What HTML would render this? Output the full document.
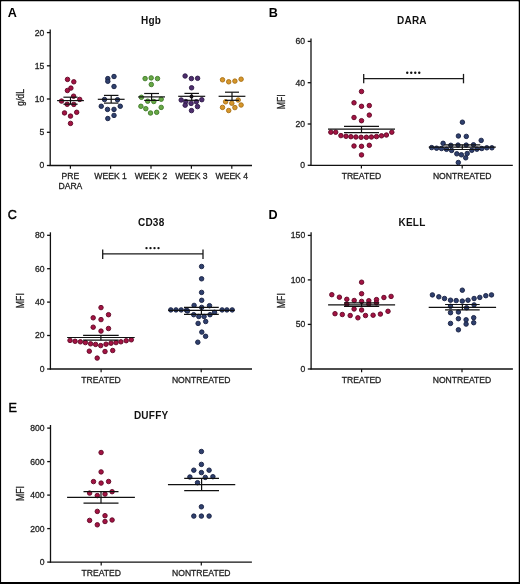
<!DOCTYPE html>
<html><head><meta charset="utf-8"><title>Figure</title>
<style>
html,body{margin:0;padding:0;background:#fff;}
body{width:520px;height:584px;overflow:hidden;}
svg{display:block;will-change:transform;}
text{font-family:"Liberation Sans", sans-serif;}
text.r{stroke:#222;stroke-width:0.28px;}
</style></head>
<body>
<svg width="520" height="584" viewBox="0 0 520 584">
<path d="M0 0H520V584H0Z M1.3 1.5V582H518.5V1.5Z" fill="#000" fill-rule="evenodd"/>
<rect x="1.3" y="1.5" width="517.2" height="580.5" fill="#fff"/>
<line x1="50.2" y1="29.5" x2="50.2" y2="166.1" stroke="#111" stroke-width="1.3"/>
<line x1="49.6" y1="165.5" x2="252" y2="165.5" stroke="#111" stroke-width="1.3"/>
<line x1="46.9" y1="165.5" x2="50.2" y2="165.5" stroke="#111" stroke-width="1.3"/>
<text class="r" x="44.3" y="168.4" font-size="8.6" text-anchor="end" font-weight="normal" fill="#222" >0</text>
<line x1="46.9" y1="132.3" x2="50.2" y2="132.3" stroke="#111" stroke-width="1.3"/>
<text class="r" x="44.3" y="135.2" font-size="8.6" text-anchor="end" font-weight="normal" fill="#222" >5</text>
<line x1="46.9" y1="99" x2="50.2" y2="99" stroke="#111" stroke-width="1.3"/>
<text class="r" x="44.3" y="101.9" font-size="8.6" text-anchor="end" font-weight="normal" fill="#222" >10</text>
<line x1="46.9" y1="65.8" x2="50.2" y2="65.8" stroke="#111" stroke-width="1.3"/>
<text class="r" x="44.3" y="68.7" font-size="8.6" text-anchor="end" font-weight="normal" fill="#222" >15</text>
<line x1="46.9" y1="32.6" x2="50.2" y2="32.6" stroke="#111" stroke-width="1.3"/>
<text class="r" x="44.3" y="35.5" font-size="8.6" text-anchor="end" font-weight="normal" fill="#222" >20</text>
<line x1="70.4" y1="165.5" x2="70.4" y2="168.8" stroke="#111" stroke-width="1.2"/>
<text class="r" x="70.4" y="178.8" font-size="8.6" text-anchor="middle" font-weight="normal" fill="#222" >PRE</text>
<text class="r" x="70.4" y="189.2" font-size="8.6" text-anchor="middle" font-weight="normal" fill="#222" >DARA</text>
<line x1="110.6" y1="165.5" x2="110.6" y2="168.8" stroke="#111" stroke-width="1.2"/>
<text class="r" x="110.6" y="178.8" font-size="8.6" text-anchor="middle" font-weight="normal" fill="#222" >WEEK 1</text>
<line x1="151" y1="165.5" x2="151" y2="168.8" stroke="#111" stroke-width="1.2"/>
<text class="r" x="151" y="178.8" font-size="8.6" text-anchor="middle" font-weight="normal" fill="#222" >WEEK 2</text>
<line x1="191.4" y1="165.5" x2="191.4" y2="168.8" stroke="#111" stroke-width="1.2"/>
<text class="r" x="191.4" y="178.8" font-size="8.6" text-anchor="middle" font-weight="normal" fill="#222" >WEEK 3</text>
<line x1="231.8" y1="165.5" x2="231.8" y2="168.8" stroke="#111" stroke-width="1.2"/>
<text class="r" x="231.8" y="178.8" font-size="8.6" text-anchor="middle" font-weight="normal" fill="#222" >WEEK 4</text>
<text x="151.1" y="23.5" font-size="10" text-anchor="middle" font-weight="bold" fill="#111" letter-spacing="0.25">Hgb</text>
<text x="7.8" y="16.5" font-size="12.6" text-anchor="start" font-weight="bold" fill="#000" >A</text>
<text class="r" x="0" y="0" font-size="10.6" text-anchor="middle" fill="#222" transform="translate(24,97.5) rotate(-90) scale(0.82,1)">g/dL</text>
<circle cx="67.5" cy="79.4" r="2.25" fill="#a31343" stroke="#600725" stroke-width="0.9"/>
<circle cx="73.8" cy="81.8" r="2.25" fill="#a31343" stroke="#600725" stroke-width="0.9"/>
<circle cx="70.9" cy="88.1" r="2.25" fill="#a31343" stroke="#600725" stroke-width="0.9"/>
<circle cx="67.4" cy="90.5" r="2.25" fill="#a31343" stroke="#600725" stroke-width="0.9"/>
<circle cx="73.6" cy="96.2" r="2.25" fill="#a31343" stroke="#600725" stroke-width="0.9"/>
<circle cx="79.7" cy="99.4" r="2.25" fill="#a31343" stroke="#600725" stroke-width="0.9"/>
<circle cx="61.5" cy="101.1" r="2.25" fill="#a31343" stroke="#600725" stroke-width="0.9"/>
<circle cx="67.2" cy="104.3" r="2.25" fill="#a31343" stroke="#600725" stroke-width="0.9"/>
<circle cx="73.8" cy="104.4" r="2.25" fill="#a31343" stroke="#600725" stroke-width="0.9"/>
<circle cx="64.5" cy="112.9" r="2.25" fill="#a31343" stroke="#600725" stroke-width="0.9"/>
<circle cx="76.7" cy="112.3" r="2.25" fill="#a31343" stroke="#600725" stroke-width="0.9"/>
<circle cx="70.5" cy="116.1" r="2.25" fill="#a31343" stroke="#600725" stroke-width="0.9"/>
<circle cx="70.5" cy="123.4" r="2.25" fill="#a31343" stroke="#600725" stroke-width="0.9"/>
<line x1="63.4" y1="97.2" x2="77.6" y2="97.2" stroke="#111" stroke-width="1.2"/>
<line x1="63.4" y1="104.2" x2="77.6" y2="104.2" stroke="#111" stroke-width="1.2"/>
<line x1="70.5" y1="97.2" x2="70.5" y2="104.2" stroke="#111" stroke-width="1.2"/>
<line x1="57.1" y1="100.6" x2="83.9" y2="100.6" stroke="#111" stroke-width="1.2"/>
<circle cx="114.0" cy="76.5" r="2.25" fill="#2f406e" stroke="#172042" stroke-width="0.9"/>
<circle cx="107.8" cy="78.6" r="2.25" fill="#2f406e" stroke="#172042" stroke-width="0.9"/>
<circle cx="107.8" cy="81.3" r="2.25" fill="#2f406e" stroke="#172042" stroke-width="0.9"/>
<circle cx="114.0" cy="86.5" r="2.25" fill="#2f406e" stroke="#172042" stroke-width="0.9"/>
<circle cx="104.5" cy="99.5" r="2.25" fill="#2f406e" stroke="#172042" stroke-width="0.9"/>
<circle cx="117.5" cy="99.75" r="2.25" fill="#2f406e" stroke="#172042" stroke-width="0.9"/>
<circle cx="101.25" cy="106.25" r="2.25" fill="#2f406e" stroke="#172042" stroke-width="0.9"/>
<circle cx="120.25" cy="106.25" r="2.25" fill="#2f406e" stroke="#172042" stroke-width="0.9"/>
<circle cx="107.5" cy="109.4" r="2.25" fill="#2f406e" stroke="#172042" stroke-width="0.9"/>
<circle cx="114.0" cy="109.4" r="2.25" fill="#2f406e" stroke="#172042" stroke-width="0.9"/>
<circle cx="114.0" cy="115.4" r="2.25" fill="#2f406e" stroke="#172042" stroke-width="0.9"/>
<circle cx="107.8" cy="118.5" r="2.25" fill="#2f406e" stroke="#172042" stroke-width="0.9"/>
<line x1="103.95" y1="95.4" x2="118.45" y2="95.4" stroke="#111" stroke-width="1.2"/>
<line x1="103.95" y1="103.1" x2="118.45" y2="103.1" stroke="#111" stroke-width="1.2"/>
<line x1="111.2" y1="95.4" x2="111.2" y2="103.1" stroke="#111" stroke-width="1.2"/>
<line x1="97.8" y1="99.3" x2="124.6" y2="99.3" stroke="#111" stroke-width="1.2"/>
<circle cx="145.1" cy="78.6" r="2.25" fill="#68a845" stroke="#3f7a2a" stroke-width="0.9"/>
<circle cx="151.2" cy="77.9" r="2.25" fill="#68a845" stroke="#3f7a2a" stroke-width="0.9"/>
<circle cx="157.5" cy="78.6" r="2.25" fill="#68a845" stroke="#3f7a2a" stroke-width="0.9"/>
<circle cx="151.3" cy="84.5" r="2.25" fill="#68a845" stroke="#3f7a2a" stroke-width="0.9"/>
<circle cx="141.4" cy="97.3" r="2.25" fill="#68a845" stroke="#3f7a2a" stroke-width="0.9"/>
<circle cx="147.7" cy="101.2" r="2.25" fill="#68a845" stroke="#3f7a2a" stroke-width="0.9"/>
<circle cx="153.8" cy="101.5" r="2.25" fill="#68a845" stroke="#3f7a2a" stroke-width="0.9"/>
<circle cx="161.2" cy="99.2" r="2.25" fill="#68a845" stroke="#3f7a2a" stroke-width="0.9"/>
<circle cx="140.9" cy="106.3" r="2.25" fill="#68a845" stroke="#3f7a2a" stroke-width="0.9"/>
<circle cx="145.8" cy="108.7" r="2.25" fill="#68a845" stroke="#3f7a2a" stroke-width="0.9"/>
<circle cx="161.2" cy="107.4" r="2.25" fill="#68a845" stroke="#3f7a2a" stroke-width="0.9"/>
<circle cx="150.5" cy="113.0" r="2.25" fill="#68a845" stroke="#3f7a2a" stroke-width="0.9"/>
<circle cx="156.7" cy="112.3" r="2.25" fill="#68a845" stroke="#3f7a2a" stroke-width="0.9"/>
<line x1="144.2" y1="93.5" x2="159" y2="93.5" stroke="#111" stroke-width="1.2"/>
<line x1="144.2" y1="100.4" x2="159" y2="100.4" stroke="#111" stroke-width="1.2"/>
<line x1="151.6" y1="93.5" x2="151.6" y2="100.4" stroke="#111" stroke-width="1.2"/>
<line x1="138.2" y1="96.9" x2="165" y2="96.9" stroke="#111" stroke-width="1.2"/>
<circle cx="185.1" cy="76.0" r="2.25" fill="#4e2e6e" stroke="#2c1a46" stroke-width="0.9"/>
<circle cx="191.4" cy="78.6" r="2.25" fill="#4e2e6e" stroke="#2c1a46" stroke-width="0.9"/>
<circle cx="197.6" cy="78.3" r="2.25" fill="#4e2e6e" stroke="#2c1a46" stroke-width="0.9"/>
<circle cx="191.6" cy="87.8" r="2.25" fill="#4e2e6e" stroke="#2c1a46" stroke-width="0.9"/>
<circle cx="181.2" cy="100.0" r="2.25" fill="#4e2e6e" stroke="#2c1a46" stroke-width="0.9"/>
<circle cx="185.8" cy="101.6" r="2.25" fill="#4e2e6e" stroke="#2c1a46" stroke-width="0.9"/>
<circle cx="191.1" cy="103.4" r="2.25" fill="#4e2e6e" stroke="#2c1a46" stroke-width="0.9"/>
<circle cx="196.3" cy="101.8" r="2.25" fill="#4e2e6e" stroke="#2c1a46" stroke-width="0.9"/>
<circle cx="201.8" cy="99.7" r="2.25" fill="#4e2e6e" stroke="#2c1a46" stroke-width="0.9"/>
<circle cx="185.2" cy="105.2" r="2.25" fill="#4e2e6e" stroke="#2c1a46" stroke-width="0.9"/>
<circle cx="197.5" cy="106.6" r="2.25" fill="#4e2e6e" stroke="#2c1a46" stroke-width="0.9"/>
<circle cx="191.5" cy="110.6" r="2.25" fill="#4e2e6e" stroke="#2c1a46" stroke-width="0.9"/>
<circle cx="191.5" cy="96.6" r="2.0" fill="#150a1c"/>
<line x1="184.45" y1="93.4" x2="198.95" y2="93.4" stroke="#111" stroke-width="1.2"/>
<line x1="184.45" y1="100.3" x2="198.95" y2="100.3" stroke="#111" stroke-width="1.2"/>
<line x1="191.7" y1="93.4" x2="191.7" y2="100.3" stroke="#111" stroke-width="1.2"/>
<line x1="178.2" y1="96.3" x2="205.2" y2="96.3" stroke="#111" stroke-width="1.2"/>
<circle cx="222.5" cy="79.8" r="2.25" fill="#d6962a" stroke="#a86f14" stroke-width="0.9"/>
<circle cx="228.7" cy="81.8" r="2.25" fill="#d6962a" stroke="#a86f14" stroke-width="0.9"/>
<circle cx="234.9" cy="81.1" r="2.25" fill="#d6962a" stroke="#a86f14" stroke-width="0.9"/>
<circle cx="241.1" cy="79.2" r="2.25" fill="#d6962a" stroke="#a86f14" stroke-width="0.9"/>
<circle cx="225.6" cy="101.8" r="2.25" fill="#d6962a" stroke="#a86f14" stroke-width="0.9"/>
<circle cx="231.8" cy="103.2" r="2.25" fill="#d6962a" stroke="#a86f14" stroke-width="0.9"/>
<circle cx="238.2" cy="100.0" r="2.25" fill="#d6962a" stroke="#a86f14" stroke-width="0.9"/>
<circle cx="222.5" cy="107.4" r="2.25" fill="#d6962a" stroke="#a86f14" stroke-width="0.9"/>
<circle cx="228.7" cy="110.5" r="2.25" fill="#d6962a" stroke="#a86f14" stroke-width="0.9"/>
<circle cx="234.9" cy="107.6" r="2.25" fill="#d6962a" stroke="#a86f14" stroke-width="0.9"/>
<circle cx="241.1" cy="105.0" r="2.25" fill="#d6962a" stroke="#a86f14" stroke-width="0.9"/>
<line x1="225" y1="92.2" x2="239" y2="92.2" stroke="#111" stroke-width="1.2"/>
<line x1="225" y1="100.3" x2="239" y2="100.3" stroke="#111" stroke-width="1.2"/>
<line x1="232" y1="92.2" x2="232" y2="100.3" stroke="#111" stroke-width="1.2"/>
<line x1="218.6" y1="96.3" x2="245.4" y2="96.3" stroke="#111" stroke-width="1.2"/>
<line x1="311" y1="38.4" x2="311" y2="165.9" stroke="#111" stroke-width="1.3"/>
<line x1="310.4" y1="165.3" x2="512.8" y2="165.3" stroke="#111" stroke-width="1.3"/>
<line x1="307.7" y1="165.3" x2="311" y2="165.3" stroke="#111" stroke-width="1.3"/>
<text class="r" x="305.1" y="168.2" font-size="8.6" text-anchor="end" font-weight="normal" fill="#222" >0</text>
<line x1="307.7" y1="124" x2="311" y2="124" stroke="#111" stroke-width="1.3"/>
<text class="r" x="305.1" y="126.9" font-size="8.6" text-anchor="end" font-weight="normal" fill="#222" >20</text>
<line x1="307.7" y1="82.7" x2="311" y2="82.7" stroke="#111" stroke-width="1.3"/>
<text class="r" x="305.1" y="85.6" font-size="8.6" text-anchor="end" font-weight="normal" fill="#222" >40</text>
<line x1="307.7" y1="41.4" x2="311" y2="41.4" stroke="#111" stroke-width="1.3"/>
<text class="r" x="305.1" y="44.3" font-size="8.6" text-anchor="end" font-weight="normal" fill="#222" >60</text>
<line x1="361.4" y1="165.3" x2="361.4" y2="168.6" stroke="#111" stroke-width="1.2"/>
<text class="r" x="361.4" y="179.3" font-size="8.6" text-anchor="middle" font-weight="normal" fill="#222" >TREATED</text>
<line x1="462.2" y1="165.3" x2="462.2" y2="168.6" stroke="#111" stroke-width="1.2"/>
<text class="r" x="462.2" y="179.3" font-size="8.6" text-anchor="middle" font-weight="normal" fill="#222" >NONTREATED</text>
<text x="411.9" y="23.8" font-size="10" text-anchor="middle" font-weight="bold" fill="#111" letter-spacing="0.25">DARA</text>
<text x="268.8" y="16.6" font-size="12.6" text-anchor="start" font-weight="bold" fill="#000" >B</text>
<text class="r" x="0" y="0" font-size="10.6" text-anchor="middle" fill="#222" transform="translate(284.6,101.85) rotate(-90) scale(0.82,1)">MFI</text>
<line x1="363.7" y1="78.6" x2="463.5" y2="78.6" stroke="#1a1a1a" stroke-width="1.3"/>
<line x1="363.7" y1="73.9" x2="363.7" y2="83.3" stroke="#1a1a1a" stroke-width="1.3"/>
<line x1="463.5" y1="73.9" x2="463.5" y2="83.3" stroke="#1a1a1a" stroke-width="1.3"/>
<circle cx="407.25" cy="72.8" r="1.2" fill="#111"/>
<circle cx="411.25" cy="72.8" r="1.2" fill="#111"/>
<circle cx="415.25" cy="72.8" r="1.2" fill="#111"/>
<circle cx="419.25" cy="72.8" r="1.2" fill="#111"/>
<circle cx="361.5" cy="91.5" r="2.25" fill="#a31343" stroke="#600725" stroke-width="0.9"/>
<circle cx="354.0" cy="102.8" r="2.25" fill="#a31343" stroke="#600725" stroke-width="0.9"/>
<circle cx="361.5" cy="106.3" r="2.25" fill="#a31343" stroke="#600725" stroke-width="0.9"/>
<circle cx="369.3" cy="105.6" r="2.25" fill="#a31343" stroke="#600725" stroke-width="0.9"/>
<circle cx="369.3" cy="115.1" r="2.25" fill="#a31343" stroke="#600725" stroke-width="0.9"/>
<circle cx="354.0" cy="117.5" r="2.25" fill="#a31343" stroke="#600725" stroke-width="0.9"/>
<circle cx="361.5" cy="120.7" r="2.25" fill="#a31343" stroke="#600725" stroke-width="0.9"/>
<circle cx="330.8" cy="132.2" r="2.25" fill="#a31343" stroke="#600725" stroke-width="0.9"/>
<circle cx="335.7" cy="132.2" r="2.25" fill="#a31343" stroke="#600725" stroke-width="0.9"/>
<circle cx="340.9" cy="135.6" r="2.25" fill="#a31343" stroke="#600725" stroke-width="0.9"/>
<circle cx="346.0" cy="136.3" r="2.25" fill="#a31343" stroke="#600725" stroke-width="0.9"/>
<circle cx="350.9" cy="136.7" r="2.25" fill="#a31343" stroke="#600725" stroke-width="0.9"/>
<circle cx="355.9" cy="137.0" r="2.25" fill="#a31343" stroke="#600725" stroke-width="0.9"/>
<circle cx="361.1" cy="137.3" r="2.25" fill="#a31343" stroke="#600725" stroke-width="0.9"/>
<circle cx="366.4" cy="137.3" r="2.25" fill="#a31343" stroke="#600725" stroke-width="0.9"/>
<circle cx="371.4" cy="137.0" r="2.25" fill="#a31343" stroke="#600725" stroke-width="0.9"/>
<circle cx="376.5" cy="136.6" r="2.25" fill="#a31343" stroke="#600725" stroke-width="0.9"/>
<circle cx="381.5" cy="135.8" r="2.25" fill="#a31343" stroke="#600725" stroke-width="0.9"/>
<circle cx="386.4" cy="135.0" r="2.25" fill="#a31343" stroke="#600725" stroke-width="0.9"/>
<circle cx="391.8" cy="132.2" r="2.25" fill="#a31343" stroke="#600725" stroke-width="0.9"/>
<circle cx="354.0" cy="146.0" r="2.25" fill="#a31343" stroke="#600725" stroke-width="0.9"/>
<circle cx="361.5" cy="146.3" r="2.25" fill="#a31343" stroke="#600725" stroke-width="0.9"/>
<circle cx="369.3" cy="145.3" r="2.25" fill="#a31343" stroke="#600725" stroke-width="0.9"/>
<circle cx="361.5" cy="154.9" r="2.25" fill="#a31343" stroke="#600725" stroke-width="0.9"/>
<line x1="344" y1="126.3" x2="379" y2="126.3" stroke="#111" stroke-width="1.2"/>
<line x1="344" y1="132.6" x2="379" y2="132.6" stroke="#111" stroke-width="1.2"/>
<line x1="361.5" y1="126.3" x2="361.5" y2="132.6" stroke="#111" stroke-width="1.2"/>
<line x1="328" y1="129.2" x2="395" y2="129.2" stroke="#111" stroke-width="1.2"/>
<circle cx="462.4" cy="122.2" r="2.25" fill="#2f406e" stroke="#172042" stroke-width="0.9"/>
<circle cx="458.4" cy="136.0" r="2.25" fill="#2f406e" stroke="#172042" stroke-width="0.9"/>
<circle cx="466.3" cy="136.4" r="2.25" fill="#2f406e" stroke="#172042" stroke-width="0.9"/>
<circle cx="481.2" cy="140.4" r="2.25" fill="#2f406e" stroke="#172042" stroke-width="0.9"/>
<circle cx="443.1" cy="143.3" r="2.25" fill="#2f406e" stroke="#172042" stroke-width="0.9"/>
<circle cx="450.8" cy="145.3" r="2.25" fill="#2f406e" stroke="#172042" stroke-width="0.9"/>
<circle cx="458.0" cy="145.1" r="2.25" fill="#2f406e" stroke="#172042" stroke-width="0.9"/>
<circle cx="466.2" cy="145.1" r="2.25" fill="#2f406e" stroke="#172042" stroke-width="0.9"/>
<circle cx="473.5" cy="144.8" r="2.25" fill="#2f406e" stroke="#172042" stroke-width="0.9"/>
<circle cx="431.7" cy="147.6" r="2.25" fill="#2f406e" stroke="#172042" stroke-width="0.9"/>
<circle cx="436.6" cy="148.2" r="2.25" fill="#2f406e" stroke="#172042" stroke-width="0.9"/>
<circle cx="441.5" cy="148.5" r="2.25" fill="#2f406e" stroke="#172042" stroke-width="0.9"/>
<circle cx="481.8" cy="148.5" r="2.25" fill="#2f406e" stroke="#172042" stroke-width="0.9"/>
<circle cx="486.8" cy="147.8" r="2.25" fill="#2f406e" stroke="#172042" stroke-width="0.9"/>
<circle cx="491.9" cy="147.8" r="2.25" fill="#2f406e" stroke="#172042" stroke-width="0.9"/>
<circle cx="446.5" cy="149.3" r="2.25" fill="#2f406e" stroke="#172042" stroke-width="0.9"/>
<circle cx="451.6" cy="150.4" r="2.25" fill="#2f406e" stroke="#172042" stroke-width="0.9"/>
<circle cx="471.8" cy="150.3" r="2.25" fill="#2f406e" stroke="#172042" stroke-width="0.9"/>
<circle cx="476.9" cy="149.2" r="2.25" fill="#2f406e" stroke="#172042" stroke-width="0.9"/>
<circle cx="456.8" cy="153.8" r="2.25" fill="#2f406e" stroke="#172042" stroke-width="0.9"/>
<circle cx="461.4" cy="154.8" r="2.25" fill="#2f406e" stroke="#172042" stroke-width="0.9"/>
<circle cx="467.2" cy="153.5" r="2.25" fill="#2f406e" stroke="#172042" stroke-width="0.9"/>
<circle cx="465.7" cy="157.8" r="2.25" fill="#2f406e" stroke="#172042" stroke-width="0.9"/>
<circle cx="458.3" cy="162.5" r="2.25" fill="#2f406e" stroke="#172042" stroke-width="0.9"/>
<line x1="444.3" y1="144.8" x2="480.3" y2="144.8" stroke="#111" stroke-width="1.2"/>
<line x1="444.3" y1="149.5" x2="480.3" y2="149.5" stroke="#111" stroke-width="1.2"/>
<line x1="462.3" y1="144.8" x2="462.3" y2="149.5" stroke="#111" stroke-width="1.2"/>
<line x1="428.8" y1="147.2" x2="495.8" y2="147.2" stroke="#111" stroke-width="1.2"/>
<line x1="50.4" y1="232.3" x2="50.4" y2="369.6" stroke="#111" stroke-width="1.3"/>
<line x1="49.8" y1="369" x2="252" y2="369" stroke="#111" stroke-width="1.3"/>
<line x1="47.1" y1="369" x2="50.4" y2="369" stroke="#111" stroke-width="1.3"/>
<text class="r" x="44.5" y="371.9" font-size="8.6" text-anchor="end" font-weight="normal" fill="#222" >0</text>
<line x1="47.1" y1="335.5" x2="50.4" y2="335.5" stroke="#111" stroke-width="1.3"/>
<text class="r" x="44.5" y="338.4" font-size="8.6" text-anchor="end" font-weight="normal" fill="#222" >20</text>
<line x1="47.1" y1="302.1" x2="50.4" y2="302.1" stroke="#111" stroke-width="1.3"/>
<text class="r" x="44.5" y="305" font-size="8.6" text-anchor="end" font-weight="normal" fill="#222" >40</text>
<line x1="47.1" y1="268.7" x2="50.4" y2="268.7" stroke="#111" stroke-width="1.3"/>
<text class="r" x="44.5" y="271.6" font-size="8.6" text-anchor="end" font-weight="normal" fill="#222" >60</text>
<line x1="47.1" y1="235.3" x2="50.4" y2="235.3" stroke="#111" stroke-width="1.3"/>
<text class="r" x="44.5" y="238.2" font-size="8.6" text-anchor="end" font-weight="normal" fill="#222" >80</text>
<line x1="101.1" y1="369" x2="101.1" y2="372.3" stroke="#111" stroke-width="1.2"/>
<text class="r" x="101.1" y="383" font-size="8.6" text-anchor="middle" font-weight="normal" fill="#222" >TREATED</text>
<line x1="201.2" y1="369" x2="201.2" y2="372.3" stroke="#111" stroke-width="1.2"/>
<text class="r" x="201.2" y="383" font-size="8.6" text-anchor="middle" font-weight="normal" fill="#222" >NONTREATED</text>
<text x="151.2" y="226.3" font-size="10" text-anchor="middle" font-weight="bold" fill="#111" letter-spacing="0.25">CD38</text>
<text x="7.8" y="218.6" font-size="12.6" fill="#000" stroke="#000" stroke-width="0.45">C</text>
<text class="r" x="0" y="0" font-size="10.6" text-anchor="middle" fill="#222" transform="translate(23.6,300.65) rotate(-90) scale(0.82,1)">MFI</text>
<line x1="102.7" y1="253.8" x2="203" y2="253.8" stroke="#1a1a1a" stroke-width="1.3"/>
<line x1="102.7" y1="249.4" x2="102.7" y2="258.9" stroke="#1a1a1a" stroke-width="1.3"/>
<line x1="203" y1="249.4" x2="203" y2="258.9" stroke="#1a1a1a" stroke-width="1.3"/>
<circle cx="146.50" cy="248.1" r="1.2" fill="#111"/>
<circle cx="150.50" cy="248.1" r="1.2" fill="#111"/>
<circle cx="154.50" cy="248.1" r="1.2" fill="#111"/>
<circle cx="158.50" cy="248.1" r="1.2" fill="#111"/>
<circle cx="101.0" cy="307.6" r="2.25" fill="#a31343" stroke="#600725" stroke-width="0.9"/>
<circle cx="108.5" cy="314.7" r="2.25" fill="#a31343" stroke="#600725" stroke-width="0.9"/>
<circle cx="93.2" cy="317.8" r="2.25" fill="#a31343" stroke="#600725" stroke-width="0.9"/>
<circle cx="101.0" cy="319.6" r="2.25" fill="#a31343" stroke="#600725" stroke-width="0.9"/>
<circle cx="93.2" cy="327.2" r="2.25" fill="#a31343" stroke="#600725" stroke-width="0.9"/>
<circle cx="108.5" cy="328.5" r="2.25" fill="#a31343" stroke="#600725" stroke-width="0.9"/>
<circle cx="101.0" cy="331.1" r="2.25" fill="#a31343" stroke="#600725" stroke-width="0.9"/>
<circle cx="70.0" cy="340.4" r="2.25" fill="#a31343" stroke="#600725" stroke-width="0.9"/>
<circle cx="75.1" cy="341.3" r="2.25" fill="#a31343" stroke="#600725" stroke-width="0.9"/>
<circle cx="80.4" cy="341.8" r="2.25" fill="#a31343" stroke="#600725" stroke-width="0.9"/>
<circle cx="85.4" cy="342.6" r="2.25" fill="#a31343" stroke="#600725" stroke-width="0.9"/>
<circle cx="90.6" cy="343.8" r="2.25" fill="#a31343" stroke="#600725" stroke-width="0.9"/>
<circle cx="95.6" cy="344.4" r="2.25" fill="#a31343" stroke="#600725" stroke-width="0.9"/>
<circle cx="100.7" cy="345.6" r="2.25" fill="#a31343" stroke="#600725" stroke-width="0.9"/>
<circle cx="106.0" cy="344.2" r="2.25" fill="#a31343" stroke="#600725" stroke-width="0.9"/>
<circle cx="111.0" cy="343.2" r="2.25" fill="#a31343" stroke="#600725" stroke-width="0.9"/>
<circle cx="116.0" cy="342.6" r="2.25" fill="#a31343" stroke="#600725" stroke-width="0.9"/>
<circle cx="120.9" cy="341.8" r="2.25" fill="#a31343" stroke="#600725" stroke-width="0.9"/>
<circle cx="126.2" cy="340.7" r="2.25" fill="#a31343" stroke="#600725" stroke-width="0.9"/>
<circle cx="131.3" cy="339.8" r="2.25" fill="#a31343" stroke="#600725" stroke-width="0.9"/>
<circle cx="89.3" cy="351.2" r="2.25" fill="#a31343" stroke="#600725" stroke-width="0.9"/>
<circle cx="105.0" cy="351.5" r="2.25" fill="#a31343" stroke="#600725" stroke-width="0.9"/>
<circle cx="112.7" cy="350.5" r="2.25" fill="#a31343" stroke="#600725" stroke-width="0.9"/>
<circle cx="97.2" cy="358.1" r="2.25" fill="#a31343" stroke="#600725" stroke-width="0.9"/>
<line x1="83.1" y1="335.3" x2="118.7" y2="335.3" stroke="#111" stroke-width="1.2"/>
<line x1="83.1" y1="340.2" x2="118.7" y2="340.2" stroke="#111" stroke-width="1.2"/>
<line x1="100.9" y1="335.3" x2="100.9" y2="340.2" stroke="#111" stroke-width="1.2"/>
<line x1="67.1" y1="337.5" x2="134.7" y2="337.5" stroke="#111" stroke-width="1.2"/>
<circle cx="201.6" cy="266.5" r="2.25" fill="#2f406e" stroke="#172042" stroke-width="0.9"/>
<circle cx="201.6" cy="278.8" r="2.25" fill="#2f406e" stroke="#172042" stroke-width="0.9"/>
<circle cx="201.6" cy="292.4" r="2.25" fill="#2f406e" stroke="#172042" stroke-width="0.9"/>
<circle cx="201.7" cy="300.3" r="2.25" fill="#2f406e" stroke="#172042" stroke-width="0.9"/>
<circle cx="194.1" cy="305.4" r="2.25" fill="#2f406e" stroke="#172042" stroke-width="0.9"/>
<circle cx="209.5" cy="305.7" r="2.25" fill="#2f406e" stroke="#172042" stroke-width="0.9"/>
<circle cx="201.7" cy="307.4" r="2.25" fill="#2f406e" stroke="#172042" stroke-width="0.9"/>
<circle cx="170.8" cy="309.9" r="2.25" fill="#2f406e" stroke="#172042" stroke-width="0.9"/>
<circle cx="176.0" cy="309.9" r="2.25" fill="#2f406e" stroke="#172042" stroke-width="0.9"/>
<circle cx="181.2" cy="309.9" r="2.25" fill="#2f406e" stroke="#172042" stroke-width="0.9"/>
<circle cx="186.5" cy="310.2" r="2.25" fill="#2f406e" stroke="#172042" stroke-width="0.9"/>
<circle cx="222.1" cy="309.9" r="2.25" fill="#2f406e" stroke="#172042" stroke-width="0.9"/>
<circle cx="226.9" cy="309.9" r="2.25" fill="#2f406e" stroke="#172042" stroke-width="0.9"/>
<circle cx="232.2" cy="309.9" r="2.25" fill="#2f406e" stroke="#172042" stroke-width="0.9"/>
<circle cx="187.5" cy="311.0" r="2.25" fill="#2f406e" stroke="#172042" stroke-width="0.9"/>
<circle cx="193.7" cy="314.7" r="2.25" fill="#2f406e" stroke="#172042" stroke-width="0.9"/>
<circle cx="198.8" cy="316.5" r="2.25" fill="#2f406e" stroke="#172042" stroke-width="0.9"/>
<circle cx="204.1" cy="316.5" r="2.25" fill="#2f406e" stroke="#172042" stroke-width="0.9"/>
<circle cx="210.0" cy="314.7" r="2.25" fill="#2f406e" stroke="#172042" stroke-width="0.9"/>
<circle cx="214.5" cy="312.3" r="2.25" fill="#2f406e" stroke="#172042" stroke-width="0.9"/>
<circle cx="198.1" cy="323.4" r="2.25" fill="#2f406e" stroke="#172042" stroke-width="0.9"/>
<circle cx="205.7" cy="321.5" r="2.25" fill="#2f406e" stroke="#172042" stroke-width="0.9"/>
<circle cx="201.8" cy="332.1" r="2.25" fill="#2f406e" stroke="#172042" stroke-width="0.9"/>
<circle cx="205.6" cy="336.3" r="2.25" fill="#2f406e" stroke="#172042" stroke-width="0.9"/>
<circle cx="197.8" cy="342.2" r="2.25" fill="#2f406e" stroke="#172042" stroke-width="0.9"/>
<line x1="184" y1="307.4" x2="218.8" y2="307.4" stroke="#111" stroke-width="1.2"/>
<line x1="184" y1="314.4" x2="218.8" y2="314.4" stroke="#111" stroke-width="1.2"/>
<line x1="201.4" y1="307.4" x2="201.4" y2="314.4" stroke="#111" stroke-width="1.2"/>
<line x1="168.15" y1="310.3" x2="234.65" y2="310.3" stroke="#111" stroke-width="1.2"/>
<line x1="311.1" y1="232.3" x2="311.1" y2="369.6" stroke="#111" stroke-width="1.3"/>
<line x1="310.5" y1="369" x2="512.9" y2="369" stroke="#111" stroke-width="1.3"/>
<line x1="307.8" y1="369" x2="311.1" y2="369" stroke="#111" stroke-width="1.3"/>
<text class="r" x="305.2" y="371.9" font-size="8.6" text-anchor="end" font-weight="normal" fill="#222" >0</text>
<line x1="307.8" y1="324.4" x2="311.1" y2="324.4" stroke="#111" stroke-width="1.3"/>
<text class="r" x="305.2" y="327.3" font-size="8.6" text-anchor="end" font-weight="normal" fill="#222" >50</text>
<line x1="307.8" y1="279.9" x2="311.1" y2="279.9" stroke="#111" stroke-width="1.3"/>
<text class="r" x="305.2" y="282.8" font-size="8.6" text-anchor="end" font-weight="normal" fill="#222" >100</text>
<line x1="307.8" y1="235.4" x2="311.1" y2="235.4" stroke="#111" stroke-width="1.3"/>
<text class="r" x="305.2" y="238.3" font-size="8.6" text-anchor="end" font-weight="normal" fill="#222" >150</text>
<line x1="361.6" y1="369" x2="361.6" y2="372.3" stroke="#111" stroke-width="1.2"/>
<text class="r" x="361.6" y="383" font-size="8.6" text-anchor="middle" font-weight="normal" fill="#222" >TREATED</text>
<line x1="462" y1="369" x2="462" y2="372.3" stroke="#111" stroke-width="1.2"/>
<text class="r" x="462" y="383" font-size="8.6" text-anchor="middle" font-weight="normal" fill="#222" >NONTREATED</text>
<text x="412" y="226.1" font-size="10" text-anchor="middle" font-weight="bold" fill="#111" letter-spacing="0.25">KELL</text>
<text x="268.6" y="218.8" font-size="12.6" text-anchor="start" font-weight="bold" fill="#000" >D</text>
<text class="r" x="0" y="0" font-size="10.6" text-anchor="middle" fill="#222" transform="translate(284.6,300.65) rotate(-90) scale(0.82,1)">MFI</text>
<circle cx="361.6" cy="282.2" r="2.25" fill="#a31343" stroke="#600725" stroke-width="0.9"/>
<circle cx="331.8" cy="294.7" r="2.25" fill="#a31343" stroke="#600725" stroke-width="0.9"/>
<circle cx="339.4" cy="297.2" r="2.25" fill="#a31343" stroke="#600725" stroke-width="0.9"/>
<circle cx="361.6" cy="293.7" r="2.25" fill="#a31343" stroke="#600725" stroke-width="0.9"/>
<circle cx="346.8" cy="299.3" r="2.25" fill="#a31343" stroke="#600725" stroke-width="0.9"/>
<circle cx="354.2" cy="300.5" r="2.25" fill="#a31343" stroke="#600725" stroke-width="0.9"/>
<circle cx="361.6" cy="301.4" r="2.25" fill="#a31343" stroke="#600725" stroke-width="0.9"/>
<circle cx="368.8" cy="300.7" r="2.25" fill="#a31343" stroke="#600725" stroke-width="0.9"/>
<circle cx="376.5" cy="299.6" r="2.25" fill="#a31343" stroke="#600725" stroke-width="0.9"/>
<circle cx="383.9" cy="297.5" r="2.25" fill="#a31343" stroke="#600725" stroke-width="0.9"/>
<circle cx="391.1" cy="296.4" r="2.25" fill="#a31343" stroke="#600725" stroke-width="0.9"/>
<circle cx="354.1" cy="309.0" r="2.25" fill="#a31343" stroke="#600725" stroke-width="0.9"/>
<circle cx="361.6" cy="310.0" r="2.25" fill="#a31343" stroke="#600725" stroke-width="0.9"/>
<circle cx="335.0" cy="313.7" r="2.25" fill="#a31343" stroke="#600725" stroke-width="0.9"/>
<circle cx="342.3" cy="314.5" r="2.25" fill="#a31343" stroke="#600725" stroke-width="0.9"/>
<circle cx="350.2" cy="315.5" r="2.25" fill="#a31343" stroke="#600725" stroke-width="0.9"/>
<circle cx="357.9" cy="317.8" r="2.25" fill="#a31343" stroke="#600725" stroke-width="0.9"/>
<circle cx="365.5" cy="315.5" r="2.25" fill="#a31343" stroke="#600725" stroke-width="0.9"/>
<circle cx="373.1" cy="315.2" r="2.25" fill="#a31343" stroke="#600725" stroke-width="0.9"/>
<circle cx="380.4" cy="314.1" r="2.25" fill="#a31343" stroke="#600725" stroke-width="0.9"/>
<circle cx="388.0" cy="311.3" r="2.25" fill="#a31343" stroke="#600725" stroke-width="0.9"/>
<circle cx="346.8" cy="304.2" r="2.25" fill="#a31343" stroke="#600725" stroke-width="0.9"/>
<circle cx="368.8" cy="304.0" r="2.25" fill="#a31343" stroke="#600725" stroke-width="0.9"/>
<circle cx="376.4" cy="302.8" r="2.25" fill="#a31343" stroke="#600725" stroke-width="0.9"/>
<line x1="344" y1="302.9" x2="379.2" y2="302.9" stroke="#111" stroke-width="1.2"/>
<line x1="344" y1="306.3" x2="379.2" y2="306.3" stroke="#111" stroke-width="1.2"/>
<line x1="361.6" y1="302.9" x2="361.6" y2="306.3" stroke="#111" stroke-width="1.2"/>
<line x1="328.1" y1="304.9" x2="395.1" y2="304.9" stroke="#111" stroke-width="1.2"/>
<circle cx="462.3" cy="290.2" r="2.25" fill="#2f406e" stroke="#172042" stroke-width="0.9"/>
<circle cx="432.4" cy="294.9" r="2.25" fill="#2f406e" stroke="#172042" stroke-width="0.9"/>
<circle cx="438.8" cy="296.8" r="2.25" fill="#2f406e" stroke="#172042" stroke-width="0.9"/>
<circle cx="444.5" cy="298.5" r="2.25" fill="#2f406e" stroke="#172042" stroke-width="0.9"/>
<circle cx="450.5" cy="300.2" r="2.25" fill="#2f406e" stroke="#172042" stroke-width="0.9"/>
<circle cx="456.2" cy="300.6" r="2.25" fill="#2f406e" stroke="#172042" stroke-width="0.9"/>
<circle cx="462.3" cy="301.1" r="2.25" fill="#2f406e" stroke="#172042" stroke-width="0.9"/>
<circle cx="468.0" cy="300.2" r="2.25" fill="#2f406e" stroke="#172042" stroke-width="0.9"/>
<circle cx="474.1" cy="298.5" r="2.25" fill="#2f406e" stroke="#172042" stroke-width="0.9"/>
<circle cx="479.8" cy="297.4" r="2.25" fill="#2f406e" stroke="#172042" stroke-width="0.9"/>
<circle cx="485.8" cy="295.7" r="2.25" fill="#2f406e" stroke="#172042" stroke-width="0.9"/>
<circle cx="491.5" cy="294.9" r="2.25" fill="#2f406e" stroke="#172042" stroke-width="0.9"/>
<circle cx="450.5" cy="306.3" r="2.25" fill="#2f406e" stroke="#172042" stroke-width="0.9"/>
<circle cx="466.6" cy="307.8" r="2.25" fill="#2f406e" stroke="#172042" stroke-width="0.9"/>
<circle cx="474.1" cy="304.9" r="2.25" fill="#2f406e" stroke="#172042" stroke-width="0.9"/>
<circle cx="450.5" cy="312.7" r="2.25" fill="#2f406e" stroke="#172042" stroke-width="0.9"/>
<circle cx="458.4" cy="312.0" r="2.25" fill="#2f406e" stroke="#172042" stroke-width="0.9"/>
<circle cx="458.4" cy="318.7" r="2.25" fill="#2f406e" stroke="#172042" stroke-width="0.9"/>
<circle cx="466.1" cy="319.8" r="2.25" fill="#2f406e" stroke="#172042" stroke-width="0.9"/>
<circle cx="473.7" cy="317.7" r="2.25" fill="#2f406e" stroke="#172042" stroke-width="0.9"/>
<circle cx="450.5" cy="323.4" r="2.25" fill="#2f406e" stroke="#172042" stroke-width="0.9"/>
<circle cx="466.1" cy="324.1" r="2.25" fill="#2f406e" stroke="#172042" stroke-width="0.9"/>
<circle cx="473.7" cy="322.7" r="2.25" fill="#2f406e" stroke="#172042" stroke-width="0.9"/>
<circle cx="458.4" cy="329.8" r="2.25" fill="#2f406e" stroke="#172042" stroke-width="0.9"/>
<line x1="445.1" y1="304.5" x2="479.7" y2="304.5" stroke="#111" stroke-width="1.2"/>
<line x1="445.1" y1="309.9" x2="479.7" y2="309.9" stroke="#111" stroke-width="1.2"/>
<line x1="462.4" y1="304.5" x2="462.4" y2="309.9" stroke="#111" stroke-width="1.2"/>
<line x1="428.7" y1="307.3" x2="496.1" y2="307.3" stroke="#111" stroke-width="1.2"/>
<line x1="50.5" y1="425" x2="50.5" y2="562.7" stroke="#111" stroke-width="1.3"/>
<line x1="49.9" y1="562.1" x2="251.9" y2="562.1" stroke="#111" stroke-width="1.3"/>
<line x1="47.2" y1="562.1" x2="50.5" y2="562.1" stroke="#111" stroke-width="1.3"/>
<text class="r" x="44.6" y="565" font-size="8.6" text-anchor="end" font-weight="normal" fill="#222" >0</text>
<line x1="47.2" y1="528.6" x2="50.5" y2="528.6" stroke="#111" stroke-width="1.3"/>
<text class="r" x="44.6" y="531.5" font-size="8.6" text-anchor="end" font-weight="normal" fill="#222" >200</text>
<line x1="47.2" y1="495.1" x2="50.5" y2="495.1" stroke="#111" stroke-width="1.3"/>
<text class="r" x="44.6" y="498" font-size="8.6" text-anchor="end" font-weight="normal" fill="#222" >400</text>
<line x1="47.2" y1="461.6" x2="50.5" y2="461.6" stroke="#111" stroke-width="1.3"/>
<text class="r" x="44.6" y="464.5" font-size="8.6" text-anchor="end" font-weight="normal" fill="#222" >600</text>
<line x1="47.2" y1="428.1" x2="50.5" y2="428.1" stroke="#111" stroke-width="1.3"/>
<text class="r" x="44.6" y="431" font-size="8.6" text-anchor="end" font-weight="normal" fill="#222" >800</text>
<line x1="101.2" y1="562.1" x2="101.2" y2="565.4" stroke="#111" stroke-width="1.2"/>
<text class="r" x="101.2" y="576.1" font-size="8.6" text-anchor="middle" font-weight="normal" fill="#222" >TREATED</text>
<line x1="201.3" y1="562.1" x2="201.3" y2="565.4" stroke="#111" stroke-width="1.2"/>
<text class="r" x="201.3" y="576.1" font-size="8.6" text-anchor="middle" font-weight="normal" fill="#222" >NONTREATED</text>
<text x="151.2" y="419.4" font-size="10" text-anchor="middle" font-weight="bold" fill="#111" letter-spacing="0.25">DUFFY</text>
<text x="8.6" y="411.9" font-size="12.6" fill="#000" stroke="#000" stroke-width="0.45">E</text>
<text class="r" x="0" y="0" font-size="10.6" text-anchor="middle" fill="#222" transform="translate(23.6,493.55) rotate(-90) scale(0.82,1)">MFI</text>
<circle cx="101.1" cy="452.5" r="2.25" fill="#a31343" stroke="#600725" stroke-width="0.9"/>
<circle cx="101.1" cy="471.9" r="2.25" fill="#a31343" stroke="#600725" stroke-width="0.9"/>
<circle cx="93.5" cy="481.6" r="2.25" fill="#a31343" stroke="#600725" stroke-width="0.9"/>
<circle cx="101.1" cy="483.1" r="2.25" fill="#a31343" stroke="#600725" stroke-width="0.9"/>
<circle cx="108.6" cy="481.5" r="2.25" fill="#a31343" stroke="#600725" stroke-width="0.9"/>
<circle cx="89.6" cy="493.1" r="2.25" fill="#a31343" stroke="#600725" stroke-width="0.9"/>
<circle cx="97.3" cy="495.6" r="2.25" fill="#a31343" stroke="#600725" stroke-width="0.9"/>
<circle cx="105.0" cy="494.1" r="2.25" fill="#a31343" stroke="#600725" stroke-width="0.9"/>
<circle cx="112.1" cy="491.7" r="2.25" fill="#a31343" stroke="#600725" stroke-width="0.9"/>
<circle cx="97.3" cy="511.4" r="2.25" fill="#a31343" stroke="#600725" stroke-width="0.9"/>
<circle cx="105.0" cy="515.7" r="2.25" fill="#a31343" stroke="#600725" stroke-width="0.9"/>
<circle cx="89.6" cy="520.4" r="2.25" fill="#a31343" stroke="#600725" stroke-width="0.9"/>
<circle cx="105.0" cy="521.5" r="2.25" fill="#a31343" stroke="#600725" stroke-width="0.9"/>
<circle cx="112.1" cy="520.0" r="2.25" fill="#a31343" stroke="#600725" stroke-width="0.9"/>
<circle cx="97.3" cy="524.8" r="2.25" fill="#a31343" stroke="#600725" stroke-width="0.9"/>
<line x1="83.5" y1="491.7" x2="118.5" y2="491.7" stroke="#111" stroke-width="1.2"/>
<line x1="83.5" y1="503.2" x2="118.5" y2="503.2" stroke="#111" stroke-width="1.2"/>
<line x1="101" y1="491.7" x2="101" y2="503.2" stroke="#111" stroke-width="1.2"/>
<line x1="67.1" y1="497.3" x2="134.9" y2="497.3" stroke="#111" stroke-width="1.2"/>
<circle cx="201.4" cy="451.5" r="2.25" fill="#2f406e" stroke="#172042" stroke-width="0.9"/>
<circle cx="201.4" cy="464.4" r="2.25" fill="#2f406e" stroke="#172042" stroke-width="0.9"/>
<circle cx="193.8" cy="470.2" r="2.25" fill="#2f406e" stroke="#172042" stroke-width="0.9"/>
<circle cx="209.1" cy="470.2" r="2.25" fill="#2f406e" stroke="#172042" stroke-width="0.9"/>
<circle cx="201.4" cy="472.6" r="2.25" fill="#2f406e" stroke="#172042" stroke-width="0.9"/>
<circle cx="189.9" cy="477.0" r="2.25" fill="#2f406e" stroke="#172042" stroke-width="0.9"/>
<circle cx="205.3" cy="477.4" r="2.25" fill="#2f406e" stroke="#172042" stroke-width="0.9"/>
<circle cx="212.9" cy="476.7" r="2.25" fill="#2f406e" stroke="#172042" stroke-width="0.9"/>
<circle cx="197.5" cy="482.7" r="2.25" fill="#2f406e" stroke="#172042" stroke-width="0.9"/>
<circle cx="201.4" cy="506.8" r="2.25" fill="#2f406e" stroke="#172042" stroke-width="0.9"/>
<circle cx="193.8" cy="516.1" r="2.25" fill="#2f406e" stroke="#172042" stroke-width="0.9"/>
<circle cx="201.4" cy="516.1" r="2.25" fill="#2f406e" stroke="#172042" stroke-width="0.9"/>
<circle cx="209.1" cy="516.1" r="2.25" fill="#2f406e" stroke="#172042" stroke-width="0.9"/>
<line x1="184.2" y1="478.4" x2="219" y2="478.4" stroke="#111" stroke-width="1.2"/>
<line x1="184.2" y1="490.6" x2="219" y2="490.6" stroke="#111" stroke-width="1.2"/>
<line x1="201.6" y1="478.4" x2="201.6" y2="490.6" stroke="#111" stroke-width="1.2"/>
<line x1="167.95" y1="484.6" x2="235.25" y2="484.6" stroke="#111" stroke-width="1.2"/>
</svg>
</body></html>
